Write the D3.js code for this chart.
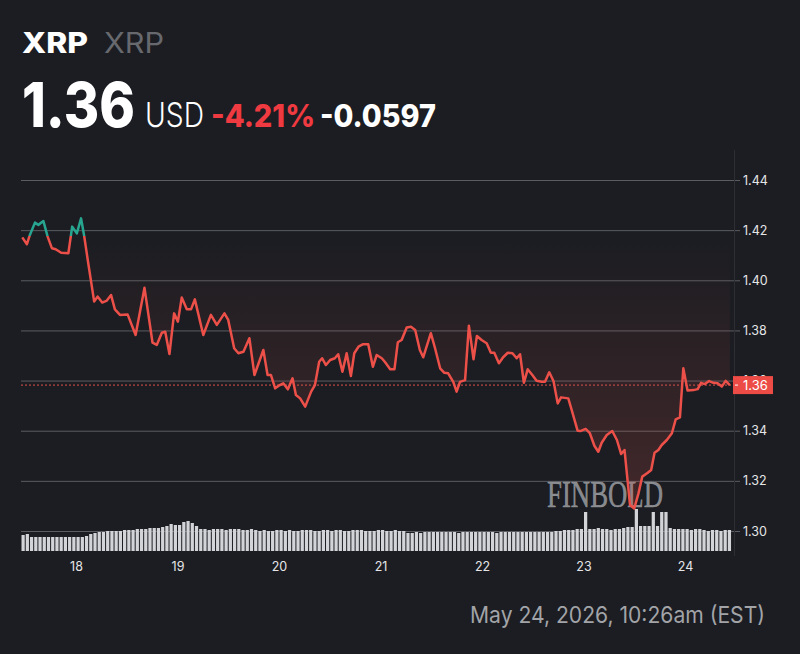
<!DOCTYPE html>
<html>
<head>
<meta charset="utf-8" />
<title>XRP price chart</title>
<script src="https://d3js.org/d3.v7.min.js"></script>
<style>
  body { margin: 0; background: #1b1d22; }
  svg { display: block; }
</style>
</head>
<body>
<svg width="800" height="654"></svg>
<script>
// hours after May 17, 11:00 and XRP price (USD)
const priceHours = [0.3, 1.4, 2.1, 3.3, 4.1, 5.3, 6.3, 7.3, 8.2, 9.5, 11.2, 12.1, 13.2, 14.2, 14.9, 15.9,
  17.3, 18.1, 19.2, 20.3, 21.3, 22.2, 23.4, 25.2, 27.1, 29.2, 31.1, 32.1, 33.3, 34.1, 35.1, 36.2,
  37.1, 38.0, 39.2, 40.2, 41.1, 43.1, 44.9, 46.3, 48.1, 49.0, 50.4, 51.4, 52.6, 54.0, 55.2, 57.3,
  58.3, 59.1, 60.1, 61.2, 62.0, 63.1, 64.2, 65.0, 66.0, 67.2, 68.6, 69.5, 70.5, 71.2, 72.1, 73.1,
  74.2, 75.0, 76.0, 77.0, 78.0, 78.8, 79.8, 80.9, 82.1, 83.2, 84.1, 85.3, 86.1, 87.3, 88.3, 89.1,
  90.0, 91.2, 92.2, 93.2, 94.3, 95.1, 96.9, 97.9, 99.1, 100.1, 101.0, 102.2, 103.0, 103.8, 105.0, 105.9,
  107.0, 107.8, 108.9, 110.1, 111.1, 111.9, 113.0, 114.0, 115.1, 116.2, 117.2, 118.0, 118.9, 119.8, 120.9, 121.9,
  123.1, 123.9, 124.9, 125.9, 126.9, 127.7, 129.4, 130.2, 131.6, 132.4, 133.5, 134.5, 135.6, 136.5, 137.3, 138.5,
  139.8, 140.9, 141.9, 142.7, 144.0, 145.0, 146.0, 146.9, 148.2, 149.0, 149.8, 150.7, 151.5, 152.7, 153.9, 154.8,
  155.8, 156.6, 157.6, 159.0, 160.0, 160.8, 161.7, 162.7, 163.7, 164.7, 165.7, 166.6, 167.6];
const priceValues = [1.4171, 1.4144, 1.4181, 1.4230, 1.4221, 1.4236, 1.4174, 1.4128, 1.4124, 1.4110, 1.4108, 1.4214, 1.4187, 1.4247, 1.4181, 1.4068,
  1.3915, 1.3935, 1.3911, 1.3919, 1.3941, 1.3884, 1.3862, 1.3864, 1.3782, 1.3970, 1.3751, 1.3742, 1.3791, 1.3795, 1.3706, 1.3868,
  1.3835, 1.3931, 1.3884, 1.3884, 1.3924, 1.3782, 1.3862, 1.3822, 1.3868, 1.3842, 1.3729, 1.3709, 1.3715, 1.3769, 1.3622, 1.3722,
  1.3622, 1.3622, 1.3569, 1.3582, 1.3589, 1.3565, 1.3609, 1.3542, 1.3529, 1.3496, 1.3556, 1.3582, 1.3675, 1.3689, 1.3662, 1.3682,
  1.3689, 1.3705, 1.3635, 1.3709, 1.3618, 1.3709, 1.3735, 1.3745, 1.3745, 1.3655, 1.3702, 1.3689, 1.3673, 1.3645, 1.3645, 1.3753,
  1.3762, 1.3812, 1.3815, 1.3802, 1.3722, 1.3693, 1.3789, 1.3729, 1.3649, 1.3631, 1.3629, 1.3595, 1.3556, 1.3595, 1.3602, 1.3819,
  1.3685, 1.3778, 1.3762, 1.3749, 1.3711, 1.3711, 1.3669, 1.3693, 1.3711, 1.3709, 1.3689, 1.3705, 1.3591, 1.3645, 1.3622, 1.3599,
  1.3595, 1.3595, 1.3633, 1.3598, 1.3509, 1.3533, 1.3529, 1.3483, 1.3400, 1.3399, 1.3407, 1.3390, 1.3339, 1.3316, 1.3352, 1.3383,
  1.3399, 1.3363, 1.3307, 1.3323, 1.3104, 1.3090, 1.3150, 1.3217, 1.3232, 1.3243, 1.3312, 1.3323, 1.3343, 1.3363, 1.3390, 1.3445,
  1.3453, 1.3649, 1.3560, 1.3562, 1.3566, 1.3591, 1.3586, 1.3598, 1.3591, 1.3589, 1.3576, 1.3599, 1.3582];

// hourly volume (relative units), one bar per hour from May 17, 11:00
const volumeValues = [16, 17, 14, 14, 14, 14, 14, 14, 14, 14, 14, 14, 14, 14, 14, 15,
  17, 18, 19, 19, 20, 20, 20, 20, 21, 21, 21, 22, 22, 22, 23, 23, 23, 24,
  25, 27, 26, 26, 29, 30, 28, 25, 22, 22, 21, 22, 22, 22, 21, 22, 22, 22, 21, 21, 22, 21,
  20, 21, 20, 20, 21, 21, 20, 21, 20, 20, 21, 21, 21, 20, 20, 21, 21, 20, 21, 21,
  20, 20, 21, 21, 21, 20, 20, 20, 21, 21, 20, 20, 21, 20, 20,
  18, 18, 19, 18, 19, 19, 19, 19, 19, 19, 19, 19, 18, 19, 19, 19, 19, 19, 19, 19,
  19, 18, 19, 19, 19, 19, 19, 19, 19, 19, 19, 19, 19, 19, 19, 20, 20, 21, 21, 21,
  22, 22, 39, 22, 22, 23, 22, 22, 21, 22, 22, 23, 24, 24, 42, 25, 25, 25, 39, 25, 39, 39,
  23, 22, 22, 22, 22, 21, 22, 22, 21, 20, 21, 21, 20, 21, 21];

const yTickValues = [1.30, 1.32, 1.34, 1.36, 1.38, 1.40, 1.42, 1.44];
const dayLabels = ["18", "19", "20", "21", "22", "23", "24"];
const prevClose = 1.4177;
const lastPrice = priceValues[priceValues.length - 1];

const svg = d3.select("svg");
const bg = "#1b1d22";
svg.append("rect").attr("width", 800).attr("height", 654).attr("fill", bg);

const start = Date.UTC(2026, 4, 17, 11);
const hour = 3600 * 1000;
const x = d3.scaleUtc()
  .domain([new Date(start), new Date(start + 168 * hour + 35 * 60 * 1000)])
  .range([21, 734]);
const y = d3.scaleLinear().domain([1.30, 1.44]).range([531, 180]);
const yVol = d3.scaleLinear().domain([0, 45]).range([551, 506]);

const prices = priceHours.map((h, i) => ({ t: new Date(start + h * hour), v: priceValues[i] }));

// header
const font = "Inter, 'Noto Sans', sans-serif";
function label(txt, xp, yp, size, weight, fill, len) {
  svg.append("text").text(txt)
    .attr("x", xp).attr("y", yp)
    .attr("font-family", font).attr("font-size", size).attr("font-weight", weight)
    .attr("fill", fill)
    .attr("textLength", len).attr("lengthAdjust", "spacingAndGlyphs");
}
label("XRP", 22, 53, 28, 800, "#ffffff", 66);
label("XRP", 104, 53, 28, 400, "#67696e", 60);
label("1.36", 22, 126.5, 62, 800, "#ffffff", 113);
label("USD", 145, 126.5, 34, 300, "#ffffff", 59);
label("-4.21%", 211, 126.5, 31, 800, "#ee3a40", 104);
label("-0.0597", 320, 126.5, 31, 800, "#ffffff", 116);
label("May 24, 2026, 10:26am (EST)", 470, 623, 23, 400, "#a2a4a8", 295);

// grid + price labels
const yAxis = svg.append("g")
  .attr("transform", "translate(21,0)")
  .call(d3.axisRight(y).tickValues(yTickValues).tickSize(719).tickPadding(3).tickFormat(d3.format(".2f")));
yAxis.select(".domain").remove();
yAxis.selectAll("line").attr("stroke", "#5a5c61").attr("stroke-width", 1);
yAxis.selectAll("text").attr("fill", "#e6e6e8").attr("font-family", font).attr("font-size", 12.5);

// separator between plot and price scale
svg.append("line").attr("x1", 734.5).attr("x2", 734.5).attr("y1", 150).attr("y2", 556)
  .attr("stroke", "#2c2e33");

// day labels
const xAxis = svg.append("g")
  .attr("transform", "translate(0,562)")
  .call(d3.axisBottom(x)
    .tickValues(dayLabels.map(d => new Date(Date.UTC(2026, 4, +d))))
    .tickSize(0).tickPadding(0)
    .tickFormat((d, i) => dayLabels[i]));
xAxis.select(".domain").remove();
xAxis.selectAll("text").attr("fill", "#e6e6e8").attr("font-family", font).attr("font-size", 12.5);

// volume bars
svg.append("g").selectAll("rect")
  .data(volumeValues)
  .join("rect")
  .attr("x", (d, i) => x(new Date(start + i * hour)) + 0.5)
  .attr("width", (d, i) => x(new Date(start + (i + 1) * hour)) - x(new Date(start + i * hour)) - 1)
  .attr("y", d => yVol(d))
  .attr("height", d => yVol(0) - yVol(d))
  .attr("fill", "#d3d4d8");

// watermark
svg.append("text").text("FINBOLD")
  .attr("x", 547).attr("y", 507)
  .attr("font-family", "'Liberation Serif', serif").attr("font-size", 38)
  .attr("fill", "#9c9da1").attr("fill-opacity", 0.85)
  .attr("stroke", "#9c9da1").attr("stroke-width", 0.6).attr("stroke-opacity", 0.85)
  .attr("textLength", 116).attr("lengthAdjust", "spacingAndGlyphs");

// clips above / below previous close
const defs = svg.append("defs");
const yBase = y(prevClose);
defs.append("clipPath").attr("id", "above")
  .append("rect").attr("x", 0).attr("y", 0).attr("width", 800).attr("height", yBase);
defs.append("clipPath").attr("id", "below")
  .append("rect").attr("x", 0).attr("y", yBase).attr("width", 800).attr("height", 654 - yBase);

const grad = defs.append("linearGradient").attr("id", "redFill")
  .attr("gradientUnits", "userSpaceOnUse")
  .attr("x1", 0).attr("x2", 0).attr("y1", yBase).attr("y2", y(1.31));
grad.append("stop").attr("offset", 0).attr("stop-color", "#e0524a").attr("stop-opacity", 0);
grad.append("stop").attr("offset", 1).attr("stop-color", "#e0524a").attr("stop-opacity", 0.2);

const area = d3.area().x(d => x(d.t)).y0(yBase).y1(d => y(d.v));
svg.append("path").datum(prices)
  .attr("d", area)
  .attr("fill", "url(#redFill)")
  .attr("clip-path", "url(#below)");

// last price dashed line
svg.append("line")
  .attr("x1", 21).attr("x2", 734).attr("y1", y(lastPrice)).attr("y2", y(lastPrice))
  .attr("stroke", "#e0524a").attr("stroke-width", 1).attr("stroke-dasharray", "2,2");

const line = d3.line().x(d => x(d.t)).y(d => y(d.v));
svg.append("path").datum(prices)
  .attr("d", line).attr("fill", "none")
  .attr("stroke", "#27a590").attr("stroke-width", 2.5).attr("stroke-linejoin", "round")
  .attr("clip-path", "url(#above)");
svg.append("path").datum(prices)
  .attr("d", line).attr("fill", "none")
  .attr("stroke", "#ec5049").attr("stroke-width", 2.5).attr("stroke-linejoin", "round")
  .attr("clip-path", "url(#below)");

// last price tag
const tag = svg.append("g").attr("transform", `translate(733,${y(lastPrice)})`);
tag.append("rect").attr("x", 0).attr("y", -9).attr("width", 40).attr("height", 18).attr("fill", "#ec4c45");
tag.append("line").attr("x1", 2).attr("x2", 5).attr("y1", 0).attr("y2", 0).attr("stroke", "#ffffff");
tag.append("text").text(d3.format(".2f")(lastPrice))
  .attr("x", 10).attr("y", 4.5)
  .attr("font-family", font).attr("font-size", 13).attr("fill", "#ffffff");
</script>
</body>
</html>
